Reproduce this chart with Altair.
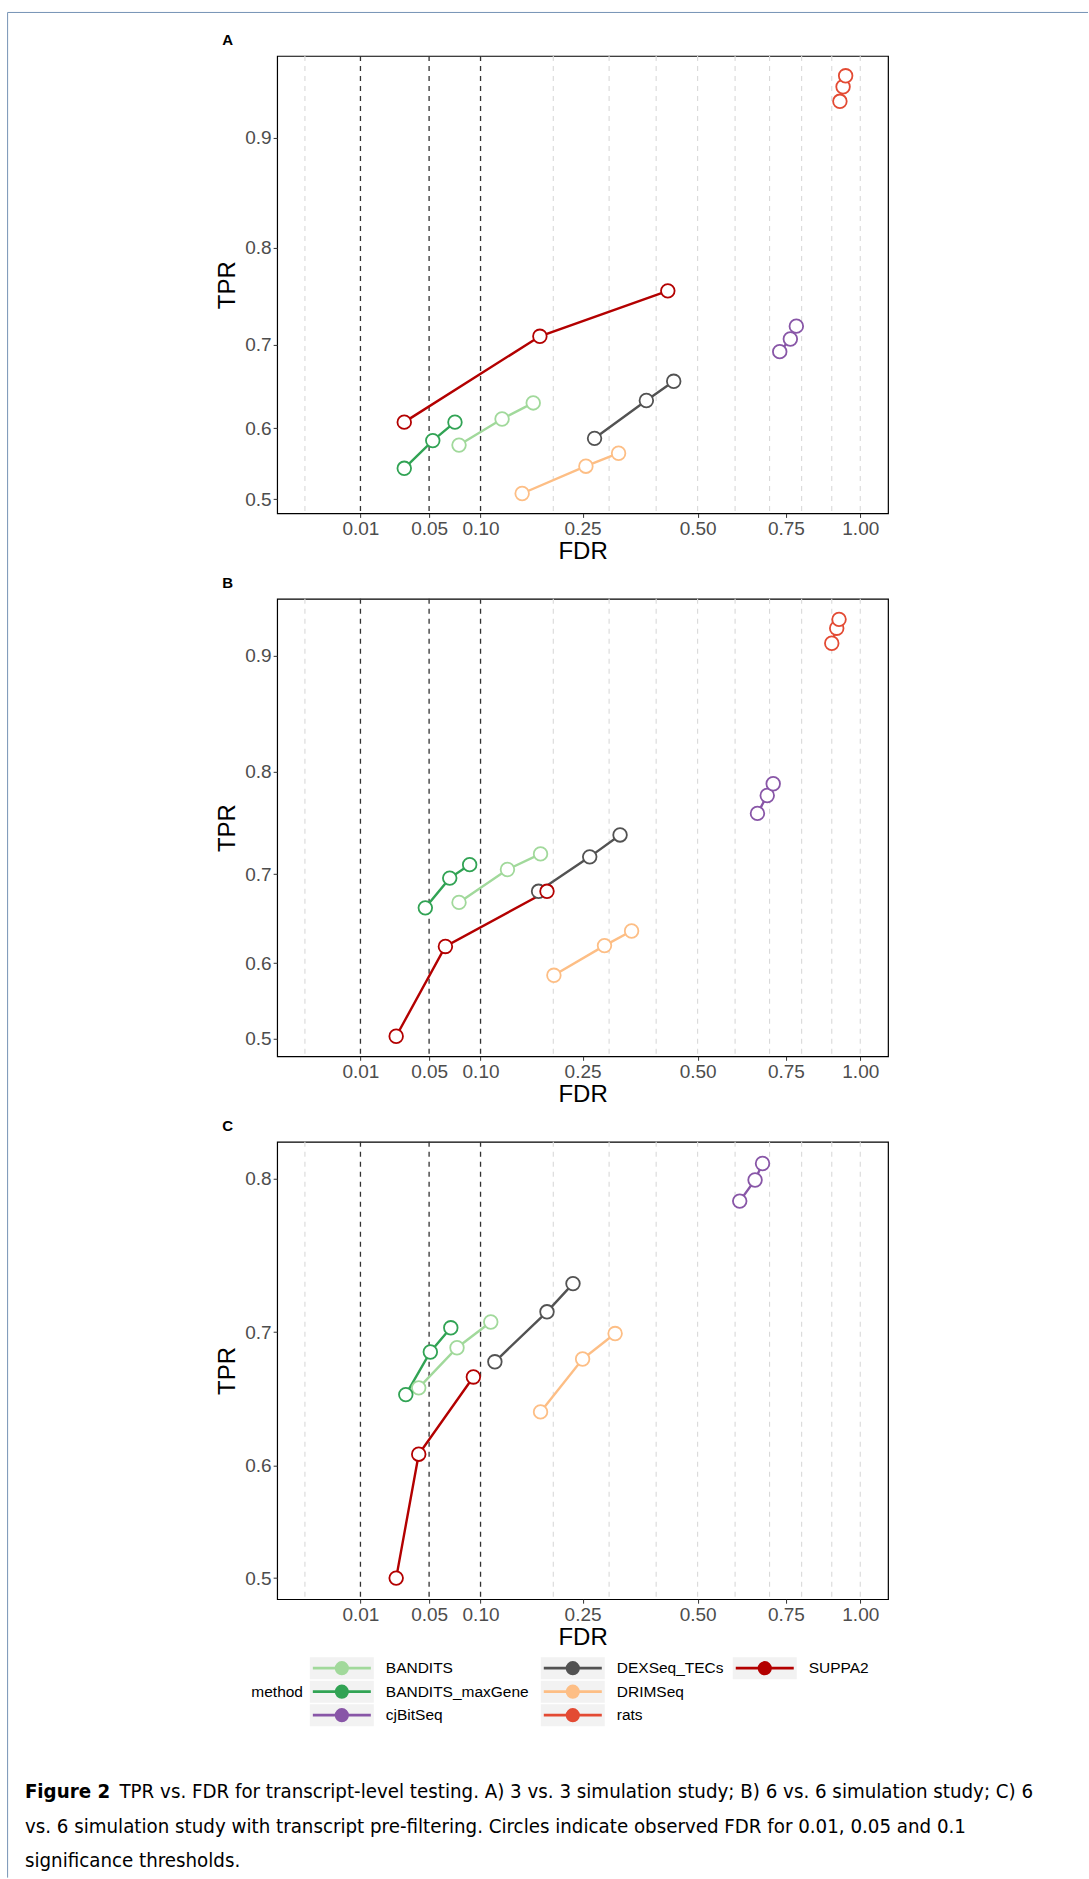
import altair as alt
import pandas as pd

methods = ["BANDITS", "BANDITS_maxGene", "cjBitSeq", "DEXSeq_TECs", "DRIMSeq", "rats", "SUPPA2"]
colors = ["#a1d99b", "#31a354", "#8856a7", "#525252", "#fdbe85", "#e34a33", "#b30000"]
thresholds = [0.01, 0.05, 0.1]
grid_breaks = [0.0, 0.1, 0.2, 0.3, 0.4, 0.5, 0.6, 0.7, 0.8, 0.9, 1.0]
x_ticks = [0.01, 0.05, 0.1, 0.25, 0.5, 0.75, 1.0]
y_ticks_ab = [0.5, 0.6, 0.7, 0.8, 0.9]
y_ticks_c = [0.5, 0.6, 0.7, 0.8]

# Panel A: 3 vs 3 (values per method at thresholds 0.01, 0.05, 0.1)
a_methods = methods
a_fdr = [0.077, 0.126, 0.169,
         0.032, 0.053, 0.073,
         0.731, 0.764, 0.783,
         0.272, 0.378, 0.441,
         0.153, 0.256, 0.319,
         0.928, 0.939, 0.948,
         0.032, 0.179, 0.427]
a_tpr = [0.578, 0.612, 0.632,
         0.546, 0.584, 0.608,
         0.692, 0.706, 0.720,
         0.587, 0.635, 0.658,
         0.509, 0.549, 0.567,
         0.931, 0.943, 0.952,
         0.608, 0.709, 0.757]

# Panel B: 6 vs 6
b_methods = methods
b_fdr = [0.077, 0.133, 0.180,
         0.047, 0.068, 0.088,
         0.664, 0.693, 0.711,
         0.177, 0.263, 0.322,
         0.201, 0.291, 0.346,
         0.900, 0.917, 0.925,
         0.027, 0.064, 0.190]
b_tpr = [0.670, 0.705, 0.721,
         0.664, 0.696, 0.710,
         0.761, 0.778, 0.789,
         0.682, 0.718, 0.740,
         0.585, 0.621, 0.638,
         0.910, 0.922, 0.929,
         0.503, 0.620, 0.682]

# Panel C: 6 vs 6 with pre-filtering (no rats)
c_methods = ["BANDITS", "BANDITS_maxGene", "cjBitSeq", "DEXSeq_TECs", "DRIMSeq", "SUPPA2"]
c_fdr = [0.042, 0.075, 0.112,
         0.033, 0.051, 0.069,
         0.613, 0.657, 0.679,
         0.117, 0.190, 0.233,
         0.180, 0.250, 0.312,
         0.027, 0.042, 0.092]
c_tpr = [0.660, 0.689, 0.707,
         0.655, 0.686, 0.703,
         0.786, 0.799, 0.809,
         0.679, 0.714, 0.733,
         0.642, 0.681, 0.699,
         0.500, 0.609, 0.668]

legend_col = [0, 0, 0, 1, 1, 1, 2]
legend_row = [0, 1, 2, 0, 1, 2, 0]

caption_bold = "Figure 2"
caption_1 = "TPR vs. FDR for transcript-level testing. A) 3 vs. 3 simulation study; B) 6 vs. 6 simulation study; C) 6"
caption_2 = "vs. 6 simulation study with transcript pre-filtering. Circles indicate observed FDR for 0.01, 0.05 and 0.1"
caption_3 = "significance thresholds."

FONT = "Liberation Sans, Arial, Helvetica, sans-serif"
CAP_FONT = "DejaVu Sans Condensed, Liberation Sans Narrow, DejaVu Sans"
CAP_SIZE = 20.3
PW, PH = 611, 457.5

color_scale = alt.Scale(domain=methods, range=colors)


def make_df(ms, fdr, tpr):
    rows = []
    for i, m in enumerate(ms):
        for j, t in enumerate(thresholds):
            rows.append({"method": m, "thr": t, "FDR": fdr[3 * i + j], "TPR": tpr[3 * i + j]})
    return pd.DataFrame(rows)


xscale = alt.Scale(type="sqrt", domain=[-0.0025, 1.1025], zero=False, nice=False)
xaxis = alt.Axis(values=x_ticks, format=".2f", title="FDR", grid=False, domain=False,
                 labelFontSize=19, labelColor="#4d4d4d", labelFont=FONT, labelFlush=False,
                 labelOverlap=False, tickColor="#333333", tickSize=4, labelPadding=2,
                 titleFontSize=24, titleFontWeight="normal", titleColor="black",
                 titleFont=FONT, titlePadding=1)


def panel(df, ydom, yticks, label):
    yscale = alt.Scale(type="pow", exponent=2, domain=ydom, zero=False, nice=False)
    yaxis = alt.Axis(values=yticks, format=".1f", title="TPR", grid=False, domain=False,
                     labelFontSize=19, labelColor="#4d4d4d", labelFont=FONT,
                     labelFlush=False, labelOverlap=False, tickColor="#333333", tickSize=4,
                     labelPadding=2, titleFontSize=24, titleFontWeight="normal",
                     titleColor="black", titleFont=FONT, titlePadding=5)
    grid = alt.Chart(pd.DataFrame({"g": grid_breaks})).mark_rule(
        color="#d9d9d9", strokeDash=[5, 5], strokeWidth=1.1
    ).encode(x=alt.X("g:Q", scale=xscale, axis=xaxis))
    thr = alt.Chart(pd.DataFrame({"g": thresholds})).mark_rule(
        color="#333333", strokeDash=[5, 5], strokeWidth=1.3
    ).encode(x=alt.X("g:Q", scale=xscale, axis=xaxis))
    base = alt.Chart(df).encode(
        x=alt.X("FDR:Q", scale=xscale, axis=xaxis),
        y=alt.Y("TPR:Q", scale=yscale, axis=yaxis),
        color=alt.Color("method:N", scale=color_scale, legend=None),
    )
    lines = base.mark_line(strokeWidth=2.4).encode(detail="method:N", order="thr:Q")
    pts = base.mark_point(shape="circle", size=185, strokeWidth=1.8, fill="white",
                          fillOpacity=1, opacity=1)
    lab = alt.Chart(pd.DataFrame({"label": [label]})).mark_text(
        fontSize=15, fontWeight="bold", font=FONT, color="black", align="center",
        baseline="middle"
    ).encode(x=alt.value(-49.6), y=alt.value(-15.5), text="label:N")
    return alt.layer(grid, thr, lines, pts, lab).properties(
        width=PW, height=PH, view=alt.ViewBackground(stroke="black", strokeWidth=1.2)
    )


pA = panel(make_df(a_methods, a_fdr, a_tpr), [0.4778, 0.968], y_ticks_ab, "A")
pB = panel(make_df(b_methods, b_fdr, b_tpr), [0.473, 0.945], y_ticks_ab, "B")
pC = panel(make_df(c_methods, c_fdr, c_tpr), [0.479, 0.822], y_ticks_c, "C")

# footer: legend, caption, page frame
leg_df = pd.DataFrame({"method": methods, "col": legend_col, "row": legend_row})
lx = alt.Scale(domain=[0, 1, 2], range=[64.7, 295.7, 487.7])
ly = alt.Scale(domain=[0, 2], range=[-16.5, 30.5])
lbase = alt.Chart(leg_df).encode(
    x=alt.X("col:Q", scale=lx, axis=None),
    y=alt.Y("row:Q", scale=ly, axis=None),
)
keys = lbase.mark_rect(color="#f2f2f2", xOffset=-32, x2Offset=32, yOffset=-11, y2Offset=11).encode(
    x2=alt.X2("col"), y2=alt.Y2("row"))
klines = lbase.mark_rule(strokeWidth=2.6, xOffset=-29, x2Offset=29).encode(
    x2=alt.X2("col"), color=alt.Color("method:N", scale=color_scale, legend=None))
kpts = lbase.mark_circle(size=200, opacity=1).encode(
    color=alt.Color("method:N", scale=color_scale, legend=None))
klabels = lbase.mark_text(align="left", baseline="middle", dx=44, fontSize=15.5, font=FONT,
                          color="black").encode(text="method:N")
ltitle = alt.Chart(pd.DataFrame({"t": ["method"]})).mark_text(
    align="center", baseline="middle", fontSize=15.5, font=FONT, color="black"
).encode(x=alt.value(0), y=alt.value(7.5), text="t:N")

cap_b = alt.Chart(pd.DataFrame({"t": [caption_bold]})).mark_text(
    align="left", baseline="middle", fontSize=CAP_SIZE, font=CAP_FONT, fontWeight="bold", color="black"
).encode(x=alt.value(-252.3), y=alt.value(107), text="t:N")
cap_1 = alt.Chart(pd.DataFrame({"t": [caption_1]})).mark_text(
    align="left", baseline="middle", fontSize=CAP_SIZE, font=CAP_FONT, color="black"
).encode(x=alt.value(-157.7), y=alt.value(107), text="t:N")
cap_2 = alt.Chart(pd.DataFrame({"t": [caption_2]})).mark_text(
    align="left", baseline="middle", fontSize=CAP_SIZE, font=CAP_FONT, color="black"
).encode(x=alt.value(-252.3), y=alt.value(142), text="t:N")
cap_3 = alt.Chart(pd.DataFrame({"t": [caption_3]})).mark_text(
    align="left", baseline="middle", fontSize=CAP_SIZE, font=CAP_FONT, color="black"
).encode(x=alt.value(-252.3), y=alt.value(176), text="t:N")

one = pd.DataFrame({"k": [0]})
frame_left = alt.Chart(one).mark_rule(color="#7593b5", strokeWidth=1).encode(
    x=alt.value(-269.6), y=alt.value(-1672.5), y2=alt.value(193))
frame_top = alt.Chart(one).mark_rule(color="#7593b5", strokeWidth=1).encode(
    x=alt.value(-269.6), x2=alt.value(811), y=alt.value(-1672.5))

footer = alt.layer(frame_left, frame_top, keys, klines, kpts, klabels, ltitle,
                   cap_b, cap_1, cap_2, cap_3).properties(
    width=PW, height=10, view=alt.ViewBackground(stroke=None))

chart = alt.vconcat(pA, pB, pC, footer, spacing=85, bounds="flush").properties(
    padding={"left": 6.2, "top": 11.8, "right": 0, "bottom": 0},
    background="white",
).configure_view(stroke=None).configure(font=FONT)

chart.save("out.html", embed_options={"renderer": "svg", "actions": False})
